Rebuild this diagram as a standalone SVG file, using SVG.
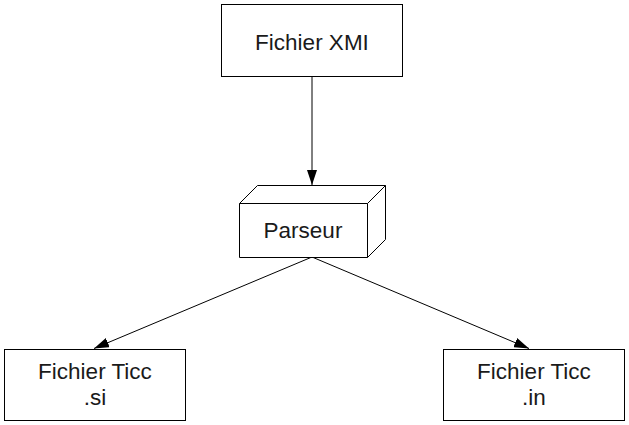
<svg xmlns="http://www.w3.org/2000/svg" width="629" height="425" viewBox="0 0 629 425">
<style>
.box{fill:#fff;stroke:#000;stroke-width:1}
.t{font-family:"Liberation Sans",Arial,sans-serif;font-size:22.5px;fill:#1a1a1a;text-anchor:middle}
.edge{stroke:#000;stroke-width:1;fill:none}
</style>
<defs>
<marker id="ah" markerWidth="15" markerHeight="10" refX="15" refY="5" orient="auto" markerUnits="userSpaceOnUse">
<path d="M0,0 L15,5 L0,10 Z" fill="#000"/>
</marker>
</defs>
<rect width="629" height="425" fill="#fff"/>
<g id="connectors">
<line class="edge" x1="312" y1="77" x2="312" y2="185" marker-end="url(#ah)"/>
<line class="edge" x1="312" y1="257" x2="94" y2="348.5" marker-end="url(#ah)"/>
<line class="edge" x1="312" y1="257" x2="529" y2="348.5" marker-end="url(#ah)"/>
</g>
<g id="xmi">
<rect class="box" x="221.5" y="4.5" width="181" height="72"/>
<text class="t" x="312" y="50">Fichier XMI</text>
</g>
<g id="parseur">
<path class="box" d="M239.5,203.5 L257.5,185.5 L385.5,185.5 L385.5,239.5 L367.5,257.5 L239.5,257.5 Z"/>
<path class="edge" d="M239.5,203.5 L367.5,203.5 L367.5,257.5 M367.5,203.5 L385.5,185.5"/>
<text class="t" x="303" y="238">Parseur</text>
</g>
<g id="si">
<rect class="box" x="4.5" y="349.5" width="181" height="71"/>
<text class="t" x="95" y="379">Fichier Ticc</text>
<text class="t" x="95" y="405">.si</text>
</g>
<g id="in">
<rect class="box" x="443.5" y="349.5" width="181" height="71"/>
<text class="t" x="534" y="379">Fichier Ticc</text>
<text class="t" x="534" y="405">.in</text>
</g>
</svg>
